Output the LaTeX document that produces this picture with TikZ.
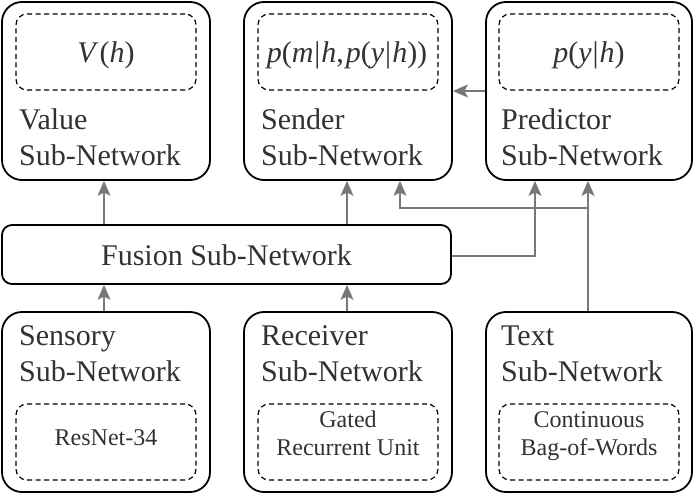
\documentclass[tikz,border=0pt]{standalone}
\usepackage{fontspec}
\setmainfont{Liberation Serif}
\usetikzlibrary{arrows.meta,calc}
\definecolor{txt}{RGB}{50,50,50}
\definecolor{arrc}{RGB}{120,120,120}
\tikzset{
  outer/.style={draw=black,line width=1.8pt,rounded corners=20pt,minimum width=#1,minimum height=178pt,inner sep=0pt},
  inner/.style={draw=black,line width=1.2pt,dash pattern=on 5pt off 3.5pt,rounded corners=11pt,minimum width=180pt,minimum height=76pt,inner sep=0pt},
  intext/.style={inner sep=0pt,text=txt,font=\fontsize{24}{29}\selectfont,align=center},
  mtext/.style={inner sep=0pt,text=txt,font=\fontsize{30}{36}\selectfont},
  lbl/.style={anchor=base west,inner sep=0pt,text=txt,font=\fontsize{30}{36}\selectfont},
  arr/.style={draw=arrc,line width=1.8pt,-{Stealth[length=15pt,width=13pt,inset=3.5pt]}},
}
\begin{document}
\begin{tikzpicture}[x=1pt,y=-1pt]
\useasboundingbox (0,0) rectangle (694,494);
% top row
\node[outer=208pt] (value) at (106,91) {};
\node[outer=208pt] (sender) at (348,91) {};
\node[outer=206pt] (pred) at (589,91) {};
\node[inner] (vin) at (106,52) {};
\node[inner] (sin) at (348,52) {};
\node[inner] (pin) at (589,52) {};
\node[mtext,anchor=base] (vt) at (106,63) {\textit{V}\kern1pt(\textit{h})};
\node[mtext,anchor=base] (st) at (347,63) {\textit{p}(\textit{m}\kern1pt|\kern1pt\textit{h},\kern2pt\textit{p}(\textit{y}\kern1pt|\kern1pt\textit{h}))};
\node[mtext,anchor=base] (pt) at (589,63) {\textit{p}(\textit{y}\kern1pt|\kern1pt\textit{h})};
\node[lbl] (v1) at (19,130) {Value};
\node[lbl] (v2) at (19,166) {Sub-Network};
\node[lbl] (s1) at (261,130) {Sender};
\node[lbl] (s2) at (261,166) {Sub-Network};
\node[lbl] (p1) at (501,130) {Predictor};
\node[lbl] (p2) at (501,166) {Sub-Network};
% fusion
\node[draw=black,line width=1.8pt,rounded corners=10pt,minimum width=449pt,minimum height=59pt,inner sep=0pt] (fusion) at (226.5,254.5) {};
\node[lbl,anchor=base] (ft) at (226.5,266) {Fusion Sub-Network};
% bottom row
\node[outer=208pt,minimum height=180pt] (sens) at (106,402) {};
\node[outer=208pt,minimum height=180pt] (recv) at (348,402) {};
\node[outer=206pt,minimum height=180pt] (textn) at (589,402) {};
\node[inner] (sensin) at (106,442) {};
\node[inner] (recvin) at (348,442) {};
\node[inner] (textin) at (589,442) {};
\node[intext,anchor=base] (sensa) at (106,446) {ResNet-34};
\node[intext,anchor=base] (recva) at (348,428) {Gated};
\node[intext,anchor=base] (recvb) at (348,456) {Recurrent Unit};
\node[intext,anchor=base] (texta) at (589,428) {Continuous};
\node[intext,anchor=base] (textb) at (589,456) {Bag-of-Words};
\node[lbl] (b1) at (19,346) {Sensory};
\node[lbl] (b2) at (19,382) {Sub-Network};
\node[lbl] (r1) at (261,346) {Receiver};
\node[lbl] (r2) at (261,382) {Sub-Network};
\node[lbl] (t1) at (501,346) {Text};
\node[lbl] (t2) at (501,382) {Sub-Network};
% connectors
\coordinate (xa) at (104,0);
\coordinate (xb) at (347,0);
\coordinate (xc) at (535,256);
\coordinate (xd) at (588,0);
\coordinate (xe) at (400,208);
\draw[arr] (fusion.north -| xa) -- (value.south -| xa);
\draw[arr] (fusion.north -| xb) -- (sender.south -| xb);
\draw[arr] (sens.north -| xa) -- (fusion.south -| xa);
\draw[arr] (recv.north -| xb) -- (fusion.south -| xb);
\draw[arr] (fusion.east |- xc) -- (xc) -- (pred.south -| xc);
\draw[arr] (textn.north -| xd) -- (pred.south -| xd);
\draw[arr] (xe -| xd) -- (xe) -- (sender.south -| xe);
\draw[arr] (pred.west) -- (sender.east);
\end{tikzpicture}
\end{document}
